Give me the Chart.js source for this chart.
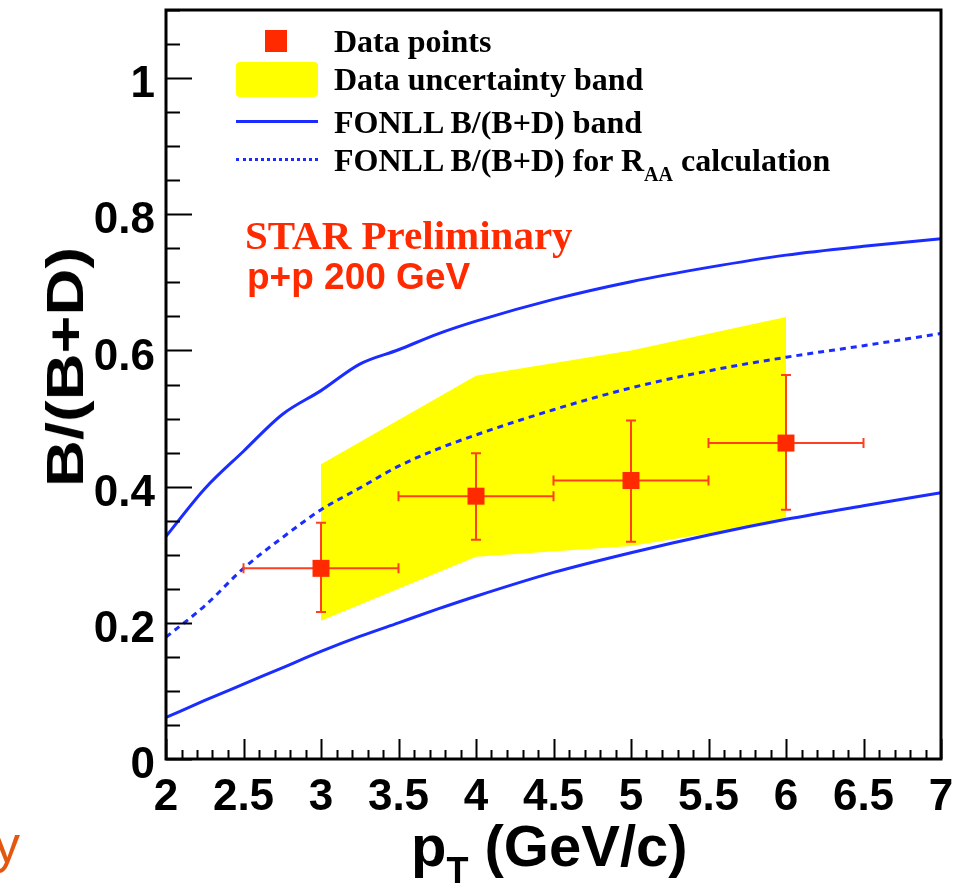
<!DOCTYPE html>
<html>
<head>
<meta charset="utf-8">
<script src="https://cdn.jsdelivr.net/npm/chart.js@4.4.1/dist/chart.umd.min.js"></script>
<style>
  html, body { margin: 0; padding: 0; background: #fff; }
  #wrap { position: relative; width: 963px; height: 889px; overflow: hidden; }
  #chart { position: absolute; left: 0; top: 0; }
  .abs { position: absolute; white-space: nowrap; line-height: 1; }
  .leg { font-family: "Liberation Serif", serif; font-weight: bold; font-size: 32px; color: #000; }
  .leg sub { font-size: 20px; vertical-align: -10px; }
  .sans { font-family: "Liberation Sans", Arial, sans-serif; font-weight: bold; }
</style>
</head>
<body>
<div id="wrap">
  <canvas id="chart" width="963" height="889"></canvas>

  <div class="abs" style="left:265px;top:30px;width:22px;height:22px;background:#ff2a00"></div>
  <div class="abs" style="left:236px;top:62px;width:82px;height:35px;background:#ffff00;border-radius:4px"></div>
  <div class="abs" style="left:236px;top:120px;width:82px;height:0;border-top:3px solid #1a2cff"></div>
  <div class="abs" style="left:236px;top:158px;width:82px;height:0;border-top:3px dotted #1a2cff"></div>

  <div class="abs leg" style="left:334px;top:25px">Data points</div>
  <div class="abs leg" style="left:334px;top:63px">Data uncertainty band</div>
  <div class="abs leg" style="left:334px;top:106px">FONLL B/(B+D) band</div>
  <div class="abs leg" style="left:334px;top:144px">FONLL B/(B+D) for R<sub>AA</sub> calculation</div>

  <div class="abs" style="left:245px;top:215px;font-family:'Liberation Serif',serif;font-weight:bold;font-size:41px;color:#ff2a00">STAR Preliminary</div>
  <div class="abs sans" style="left:247px;top:258px;font-size:37px;color:#ff2a00">p+p 200 GeV</div>

  <div class="abs sans" style="left:65px;top:367px;font-size:52px;color:#000;transform:translate(-50%,-50%) rotate(-90deg) scaleX(1.25)">B/(B+D)</div>
  <div class="abs sans" style="left:411px;top:817px;font-size:58px;color:#000">p<sub style="font-size:36px;vertical-align:-17px">T</sub> (GeV/c)</div>

  <div class="abs" style="left:-6px;top:818px;font-family:'Liberation Sans',Arial,sans-serif;font-size:52px;color:#e4570e">y</div>
</div>

<script>
  // FONLL curves, sampled along pT
  const PT_CURVE = [2, 2.25, 2.5, 2.75, 3, 3.25, 3.5, 3.75, 4, 4.5, 5, 5.5, 6, 6.5, 7];
  const FONLL_UPPER = [0.327, 0.397, 0.452, 0.506, 0.541, 0.580, 0.601, 0.624, 0.643, 0.675, 0.701, 0.722, 0.740, 0.753, 0.764];
  const FONLL_LOWER = [0.061, 0.086, 0.110, 0.134, 0.158, 0.180, 0.200, 0.220, 0.239, 0.274, 0.303, 0.329, 0.352, 0.372, 0.391];
  const FONLL_RAA = [0.179, 0.225, 0.280, 0.325, 0.366, 0.398, 0.430, 0.455, 0.476, 0.513, 0.545, 0.570, 0.590, 0.607, 0.625];

  // yellow data uncertainty band
  const BAND_PT = [3, 4, 5, 6];
  const BAND_HIGH = [0.433, 0.563, 0.600, 0.649];
  const BAND_LOW = [0.203, 0.297, 0.313, 0.350];

  // data points with errors
  const DATA_PT = [3, 4, 5, 6];
  const DATA_RATIO = [0.280, 0.386, 0.409, 0.464];
  const DATA_ERR_UP = [0.067, 0.063, 0.088, 0.100];
  const DATA_ERR_DOWN = [0.064, 0.064, 0.090, 0.098];
  const DATA_PT_ERR = [0.5, 0.5, 0.5, 0.5];

  // axis ticks
  const X_TICKS = [2, 2.5, 3, 3.5, 4, 4.5, 5, 5.5, 6, 6.5, 7];
  const Y_TICKS = [0, 0.2, 0.4, 0.6, 0.8, 1];

  const BLUE = "#1a2cff";
  const RED = "#ff2a00";
  const TICK_FONT = { family: "'Liberation Sans', Arial, sans-serif", weight: "bold", size: 44 };

  const toPoints = (xs, ys) => xs.map((x, i) => ({ x, y: ys[i] }));

  // ROOT-style frame with inner major/minor ticks
  const frameTicks = {
    id: "frameTicks",
    afterDraw(chart) {
      const { ctx, chartArea: a, scales: { x, y } } = chart;
      ctx.save();
      ctx.strokeStyle = "#000";
      ctx.lineWidth = 2;
      ctx.beginPath();
      for (let i = 0; i <= 50; i++) {
        const px = Math.round(x.getPixelForValue(2 + i * 0.1)) + 0.5;
        const len = i % 5 === 0 ? 20 : 9;
        ctx.moveTo(px, a.bottom);
        ctx.lineTo(px, a.bottom - len);
      }
      for (let i = 0; i <= 22; i++) {
        const py = Math.round(y.getPixelForValue(i * 0.05)) + 0.5;
        const len = i % 4 === 0 ? 26 : 14;
        ctx.moveTo(a.left, py);
        ctx.lineTo(a.left + len, py);
      }
      ctx.stroke();
      ctx.lineWidth = 3;
      ctx.strokeRect(a.left, a.top, a.right - a.left, a.bottom - a.top);
      ctx.restore();
    }
  };

  // horizontal and vertical error bars under the square markers
  const errorBars = {
    id: "errorBars",
    beforeDatasetDraw(chart, args) {
      if (chart.data.datasets[args.index].label !== "Data points") return;
      const { ctx, scales: { x, y } } = chart;
      ctx.save();
      ctx.strokeStyle = "#ff4020";
      ctx.lineWidth = 2;
      ctx.beginPath();
      DATA_PT.forEach((pt, i) => {
        const cx = x.getPixelForValue(pt);
        const cy = y.getPixelForValue(DATA_RATIO[i]);
        const x0 = x.getPixelForValue(pt - DATA_PT_ERR[i]);
        const x1 = x.getPixelForValue(pt + DATA_PT_ERR[i]);
        const y0 = y.getPixelForValue(DATA_RATIO[i] + DATA_ERR_UP[i]);
        const y1 = y.getPixelForValue(DATA_RATIO[i] - DATA_ERR_DOWN[i]);
        ctx.moveTo(x0, cy); ctx.lineTo(x1, cy);
        ctx.moveTo(cx, y0); ctx.lineTo(cx, y1);
        ctx.moveTo(x0, cy - 5); ctx.lineTo(x0, cy + 5);
        ctx.moveTo(x1, cy - 5); ctx.lineTo(x1, cy + 5);
        ctx.moveTo(cx - 5, y0); ctx.lineTo(cx + 5, y0);
        ctx.moveTo(cx - 5, y1); ctx.lineTo(cx + 5, y1);
      });
      ctx.stroke();
      ctx.restore();
    }
  };

  const lineStyle = { pointRadius: 0, borderWidth: 3, borderColor: BLUE, fill: false, cubicInterpolationMode: "monotone" };

  new Chart(document.getElementById("chart"), {
    type: "line",
    data: {
      datasets: [
        { label: "Data points", type: "scatter", data: toPoints(DATA_PT, DATA_RATIO), pointStyle: "rect", pointRadius: 12, pointHoverRadius: 12, backgroundColor: RED, borderColor: RED, borderWidth: 0, order: 0 },
        { label: "FONLL upper", data: toPoints(PT_CURVE, FONLL_UPPER), ...lineStyle, order: 1 },
        { label: "FONLL lower", data: toPoints(PT_CURVE, FONLL_LOWER), ...lineStyle, order: 1 },
        { label: "FONLL RAA", data: toPoints(PT_CURVE, FONLL_RAA), ...lineStyle, borderDash: [6, 5], order: 1 },
        { label: "Band high", data: toPoints(BAND_PT, BAND_HIGH), pointRadius: 0, borderWidth: 0, tension: 0, backgroundColor: "#ffff00", fill: "+1", order: 2 },
        { label: "Band low", data: toPoints(BAND_PT, BAND_LOW), pointRadius: 0, borderWidth: 0, tension: 0, fill: false, order: 3 }
      ]
    },
    options: {
      responsive: false,
      animation: false,
      events: [],
      layout: { autoPadding: false, padding: { left: 0, top: 10, right: 22, bottom: 0 } },
      plugins: { legend: { display: false }, tooltip: { enabled: false } },
      scales: {
        x: {
          type: "linear", min: 2, max: 7,
          afterBuildTicks: scale => { scale.ticks = X_TICKS.map(value => ({ value })); },
          afterFit: scale => { scale.height = 130; scale.paddingLeft = 0; scale.paddingRight = 0; },
          grid: { display: false, drawTicks: false },
          border: { display: false },
          ticks: { font: TICK_FONT, color: "#000", padding: 12, maxRotation: 0, autoSkip: false, callback: value => String(value) }
        },
        y: {
          type: "linear", min: 0, max: 1.1,
          afterBuildTicks: scale => { scale.ticks = Y_TICKS.map(value => ({ value })); },
          afterFit: scale => { scale.width = 166; scale.paddingTop = 0; scale.paddingBottom = 0; },
          grid: { display: false, drawTicks: false },
          border: { display: false },
          ticks: { font: TICK_FONT, color: "#000", padding: 11, labelOffset: 7, autoSkip: false, callback: value => String(value) }
        }
      }
    },
    plugins: [errorBars, frameTicks]
  });
</script>
</body>
</html>
